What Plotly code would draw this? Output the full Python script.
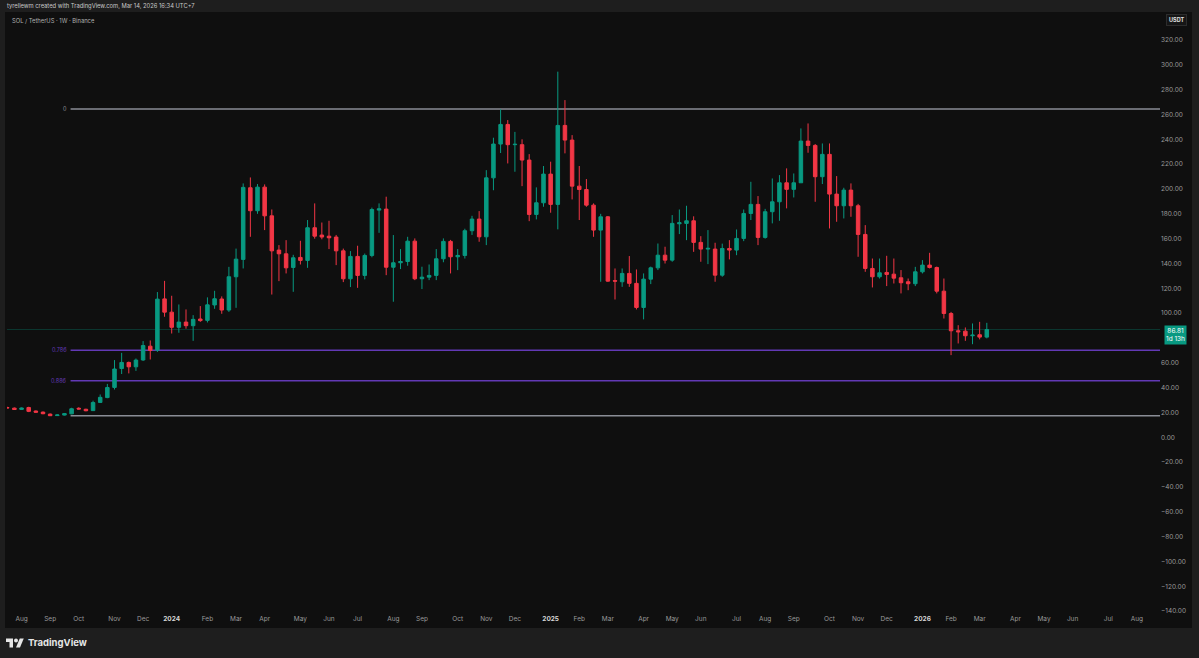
import pandas as pd
import plotly.graph_objects as go

# ---------------- data (weekly SOL/USDT, Binance) ----------------
start_week = "2023-07-24"
opens = [24.0, 23.5, 22.5, 24.0, 21.2, 20.3, 18.7, 17.5, 17.9, 18.9, 23.4, 22.6, 21.5, 28.1, 32.0, 40.2, 55.4, 60.3, 56.8, 62.3,
         73.4, 70.2, 111.5, 100.8, 88.6, 92.8, 89.9, 95.3, 94.2, 106.6, 111.4, 102.5, 129.3, 143.3, 201.0, 182.5, 201.5, 178.4, 150.8, 147.8,
         136.8, 144.9, 142.5, 168.8, 162.9, 162.0, 161.3, 150.2, 127.7, 145.7, 130.4, 146.5, 183.0, 183.8, 137.0, 140.6, 141.6, 158.0, 127.7, 129.0,
         130.4, 143.8, 157.8, 145.4, 146.5, 166.4, 175.8, 161.5, 209.0, 236.2, 252.0, 235.7, 235.7, 223.3, 179.5, 188.9, 212.0, 187.6, 251.2, 239.4,
         202.3, 199.6, 187.0, 166.9, 177.6, 126.2, 125.3, 132.0, 124.0, 104.6, 127.4, 136.5, 146.7, 142.7, 172.0, 172.3, 174.4, 157.0, 151.6, 151.6,
         130.6, 152.1, 150.8, 160.2, 180.3, 187.6, 161.0, 181.7, 189.7, 205.0, 199.7, 205.0, 238.6, 235.1, 209.9, 227.9, 195.9, 186.5, 199.1, 186.5,
         163.4, 136.0, 129.3, 132.8, 131.4, 128.5, 125.3, 123.7, 133.3, 138.7, 136.8, 117.7, 99.7, 85.8, 85.5, 81.8, 82.6, 80.7]
highs = [24.6, 24.0, 24.0, 24.6, 21.6, 20.8, 19.2, 18.4, 19.6, 23.8, 24.2, 23.0, 29.5, 34.5, 43.0, 62.2, 68.0, 61.0, 63.5, 77.5,
         78.0, 117.0, 126.0, 114.0, 107.0, 103.0, 98.4, 105.7, 112.7, 118.0, 113.5, 137.3, 152.0, 204.5, 209.3, 204.0, 203.7, 183.5, 154.8, 158.8,
         147.0, 158.3, 175.0, 188.4, 173.0, 174.4, 163.0, 152.0, 150.0, 154.3, 148.0, 185.0, 188.4, 193.8, 162.9, 151.6, 161.5, 160.2, 137.4, 139.2,
         151.6, 160.2, 159.0, 151.6, 168.0, 178.4, 182.2, 215.2, 241.3, 264.1, 255.5, 246.0, 240.0, 228.1, 201.3, 218.5, 222.0, 294.5, 271.6, 243.4,
         218.5, 208.0, 188.4, 180.0, 178.2, 136.0, 136.0, 146.0, 135.2, 132.0, 137.5, 156.1, 153.5, 179.0, 183.5, 186.5, 178.0, 162.0, 166.9, 156.7,
         156.0, 158.8, 167.4, 183.5, 205.8, 194.3, 184.0, 208.5, 211.2, 216.6, 212.5, 248.8, 252.8, 236.2, 236.7, 236.7, 210.4, 201.0, 204.5, 188.0,
         170.9, 144.0, 144.0, 146.2, 144.0, 134.7, 127.9, 137.3, 142.7, 148.6, 137.5, 127.9, 101.0, 90.3, 88.5, 91.7, 93.0, 92.2]
lows = [23.3, 22.0, 22.2, 20.3, 19.8, 18.6, 17.4, 17.34, 17.6, 18.6, 22.4, 21.0, 21.2, 27.8, 31.5, 38.5, 51.0, 51.5, 53.5, 61.5,
        62.7, 68.8, 97.1, 83.6, 84.2, 87.5, 77.7, 93.0, 92.5, 103.5, 99.5, 101.0, 104.3, 136.0, 161.5, 180.0, 166.9, 115.0, 125.8, 132.0,
        117.2, 139.2, 136.5, 160.0, 159.5, 151.6, 138.7, 125.0, 121.0, 120.4, 127.2, 145.0, 164.7, 130.6, 109.2, 135.5, 138.2, 126.6, 119.4, 126.6,
        126.6, 141.0, 132.0, 134.7, 144.0, 163.0, 157.5, 154.8, 199.0, 229.0, 220.6, 213.9, 202.3, 174.1, 175.5, 185.7, 180.9, 167.5, 228.7, 191.6,
        175.0, 185.7, 161.5, 125.3, 125.3, 111.0, 121.2, 121.2, 103.0, 95.0, 123.4, 134.7, 140.0, 141.4, 163.7, 158.8, 149.4, 141.4, 139.5, 125.3,
        129.3, 143.3, 146.7, 158.0, 175.0, 154.8, 160.0, 172.3, 174.4, 184.4, 193.2, 205.0, 229.2, 189.7, 204.0, 168.2, 173.6, 176.3, 177.6, 145.4,
        133.3, 120.7, 127.9, 121.8, 123.9, 115.9, 118.5, 121.8, 132.0, 136.0, 115.9, 95.7, 66.2, 75.6, 77.7, 75.0, 78.9, 79.7]
closes = [23.7, 22.4, 23.6, 20.9, 20.2, 19.0, 17.4, 18.0, 19.1, 23.0, 22.8, 21.4, 28.0, 32.2, 40.1, 55.0, 60.3, 56.8, 62.2, 73.9,
          70.0, 111.3, 100.8, 88.6, 92.8, 89.9, 95.0, 94.0, 106.7, 111.6, 102.5, 129.3, 143.5, 201.3, 182.5, 201.5, 178.4, 150.2, 147.8, 136.5,
          144.6, 142.5, 168.8, 162.0, 161.3, 160.7, 150.2, 127.7, 145.7, 130.4, 146.5, 183.5, 184.0, 137.0, 140.6, 141.6, 158.0, 127.7, 129.0, 130.4,
          143.8, 157.8, 145.4, 146.5, 166.4, 175.8, 161.5, 209.0, 236.2, 252.0, 235.7, 236.0, 223.3, 179.5, 188.9, 212.0, 187.6, 251.2, 239.4, 202.3,
          199.6, 187.0, 166.9, 177.6, 125.8, 125.8, 132.0, 124.0, 104.6, 127.4, 136.5, 146.7, 142.7, 172.3, 172.8, 174.4, 157.0, 151.6, 152.2, 130.6,
          152.1, 150.8, 160.2, 180.3, 187.6, 161.0, 181.7, 189.7, 205.0, 199.7, 205.0, 238.6, 235.1, 209.9, 227.9, 195.9, 186.5, 199.1, 186.5, 163.4,
          136.0, 129.3, 132.5, 131.2, 128.2, 124.5, 123.7, 133.3, 138.7, 136.8, 117.7, 99.7, 85.8, 85.0, 81.8, 82.3, 80.7, 86.81]

last_price = 86.81
last_label = "1d 13h"
fib_anchor_high = 264.39
fib_anchor_low = 17.34
fib_levels = [0, 0.786, 0.886, 1]
fib_labels = ["0", "0.786", "0.886", ""]
fib_start = "2023-09-24"
# 80.00 is hidden behind the last-price label in the reference
y_ticks = [t for t in range(-140, 340, 20) if t != 80]
header_text = "tyrellewm created with TradingView.com, Mar 14, 2026 16:34 UTC+7"
symbol_text = "SOL / TetherUS · 1W · Binance"

dates = pd.date_range(start_week, periods=len(opens), freq="7D")

# ---------------- geometry ----------------
W, H = 1199, 658
L, R, T, B = 7, 1160, 13, 613
PW, PH = R - L, B - T
def px(x):
    return (x - L) / PW
def py(y):
    return (B - y) / PH

anchor = pd.Timestamp("2024-01-01")
anchor_px = 171.7
px_per_week = 7.15
def date_at(x):
    return anchor + pd.Timedelta(days=(x - anchor_px) / px_per_week * 7)
x_left, x_right = date_at(L), date_at(R)
y_low, y_high = -141.5, 320 + (40 - T) / 1.241

# month ticks at first weekly bar of each month
mondays = pd.date_range("2023-08-01", "2026-08-31", freq="W-MON")
tick_df = pd.DataFrame({"d": mondays})
tick_df["ym"] = tick_df["d"].dt.to_period("M")
first = tick_df.groupby("ym")["d"].min().tolist()
tick_vals, tick_text = [], []
for d in first:
    tick_vals.append(d)
    if d.month == 1:
        tick_text.append(f"<b><span style='color:#d6d6d6'>{d.year}</span></b>")
    else:
        tick_text.append(d.strftime("%b"))

GREEN, RED = "#089981", "#f23645"
FONT = "Inter, Roboto, sans-serif"

fig = go.Figure()
fig.add_trace(go.Candlestick(
    x=dates, open=opens, high=highs, low=lows, close=closes,
    increasing=dict(line=dict(color=GREEN, width=1), fillcolor=GREEN),
    decreasing=dict(line=dict(color=RED, width=1), fillcolor=RED),
    hoverinfo="skip", showlegend=False,
))

shapes = []
# panel background
shapes.append(dict(type="rect", xref="paper", yref="paper", x0=px(5), x1=px(1192), y0=py(628), y1=py(12),
                   fillcolor="#0f0f0f", line=dict(width=0), layer="below"))
# last price line
shapes.append(dict(type="line", xref="paper", yref="y", x0=0, x1=1, y0=last_price, y1=last_price,
                   line=dict(color="rgba(8,153,129,0.30)", width=1), layer="below"))
fib_colors = ["#8a8d96", "#6239b5", "#6239b5", "#8a8d96"]
annotations = []
for lvl, lab, col in zip(fib_levels, fib_labels, fib_colors):
    price = fib_anchor_high - lvl * (fib_anchor_high - fib_anchor_low)
    shapes.append(dict(type="line", xref="x", yref="y", x0=fib_start, x1=x_right, y0=price, y1=price,
                       line=dict(color=col, width=1.5), layer="below"))
    if lab:
        annotations.append(dict(x=fib_start, y=price, xref="x", yref="y", text=lab, showarrow=False,
                                xanchor="right", yanchor="middle", xshift=-2,
                                font=dict(size=5.5, color=col, family=FONT)))

# TradingView logo (icon)
s, ox, oy = 0.5, 6, 643
def pt(u, v):
    return px(ox + u * s), py(oy + (v - 13) * s)
def path(points):
    p = [pt(u, v) for u, v in points]
    return "M " + " L ".join(f"{a:.5f},{b:.5f}" for a, b in p) + " Z"
shapes.append(dict(type="path", xref="paper", yref="paper",
                   path=path([(0, 4), (14, 4), (14, 22), (7, 22), (7, 11), (0, 11)]),
                   fillcolor="#e6e6e6", line=dict(width=0)))
shapes.append(dict(type="path", xref="paper", yref="paper",
                   path=path([(27.5, 4), (35.5, 4), (28, 22), (20, 22)]),
                   fillcolor="#e6e6e6", line=dict(width=0)))
cx0, cy0 = pt(16, 4)
cx1, cy1 = pt(24, 12)
shapes.append(dict(type="circle", xref="paper", yref="paper", x0=cx0, x1=cx1, y0=cy1, y1=cy0,
                   fillcolor="#e6e6e6", line=dict(width=0)))

annotations += [
    dict(x=px(5), y=py(6), xref="paper", yref="paper", text=header_text, showarrow=False,
         xanchor="left", yanchor="middle", font=dict(size=5.8, color="#c8c8c8", family=FONT)),
    dict(x=px(10), y=py(20), xref="paper", yref="paper", text=symbol_text, showarrow=False,
         xanchor="left", yanchor="middle", font=dict(size=5.8, color="#b0b0b0", family=FONT)),
    dict(x=px(1176), y=py(20), xref="paper", yref="paper", text="<b>USDT</b>", showarrow=False,
         xanchor="center", yanchor="middle", bgcolor="#161616", bordercolor="#2c2c2c", borderwidth=1, borderpad=2,
         font=dict(size=5.5, color="#e0e0e0", family=FONT)),
    dict(x=px(1175), y=last_price, xref="paper", yref="y", text=f"{last_price:.2f}<br>{last_label}", showarrow=False,
         xanchor="center", yanchor="top", yshift=5, bgcolor=GREEN, borderpad=1,
         font=dict(size=6.5, color="#ffffff", family=FONT)),
    dict(x=px(26), y=py(643), xref="paper", yref="paper", text="<b>TradingView</b>", showarrow=False,
         xanchor="left", yanchor="middle", font=dict(size=9.5, color="#e6e6e6", family=FONT)),
]

fig.update_layout(
    width=W, height=H, autosize=False,
    margin=dict(l=L, r=W - R, t=T, b=H - B, pad=0),
    paper_bgcolor="#1e1e1e", plot_bgcolor="#0f0f0f",
    shapes=shapes, annotations=annotations, showlegend=False,
    xaxis=dict(type="date", range=[x_left, x_right], tickvals=tick_vals, ticktext=tick_text,
               showgrid=False, zeroline=False, showline=False, ticks="", rangeslider=dict(visible=False),
               tickfont=dict(size=6.5, color="#9a9a9a", family=FONT), fixedrange=True),
    yaxis=dict(side="right", range=[y_low, y_high], tickvals=y_ticks, tickformat=".2f",
               showgrid=False, zeroline=False, showline=False, ticks="", ticklen=4,
               tickfont=dict(size=6.5, color="#9a9a9a", family=FONT), fixedrange=True),
    hovermode=False,
)

fig.write_html("out.html", config={"displayModeBar": False},
               post_script="document.body.style.margin='0';")
